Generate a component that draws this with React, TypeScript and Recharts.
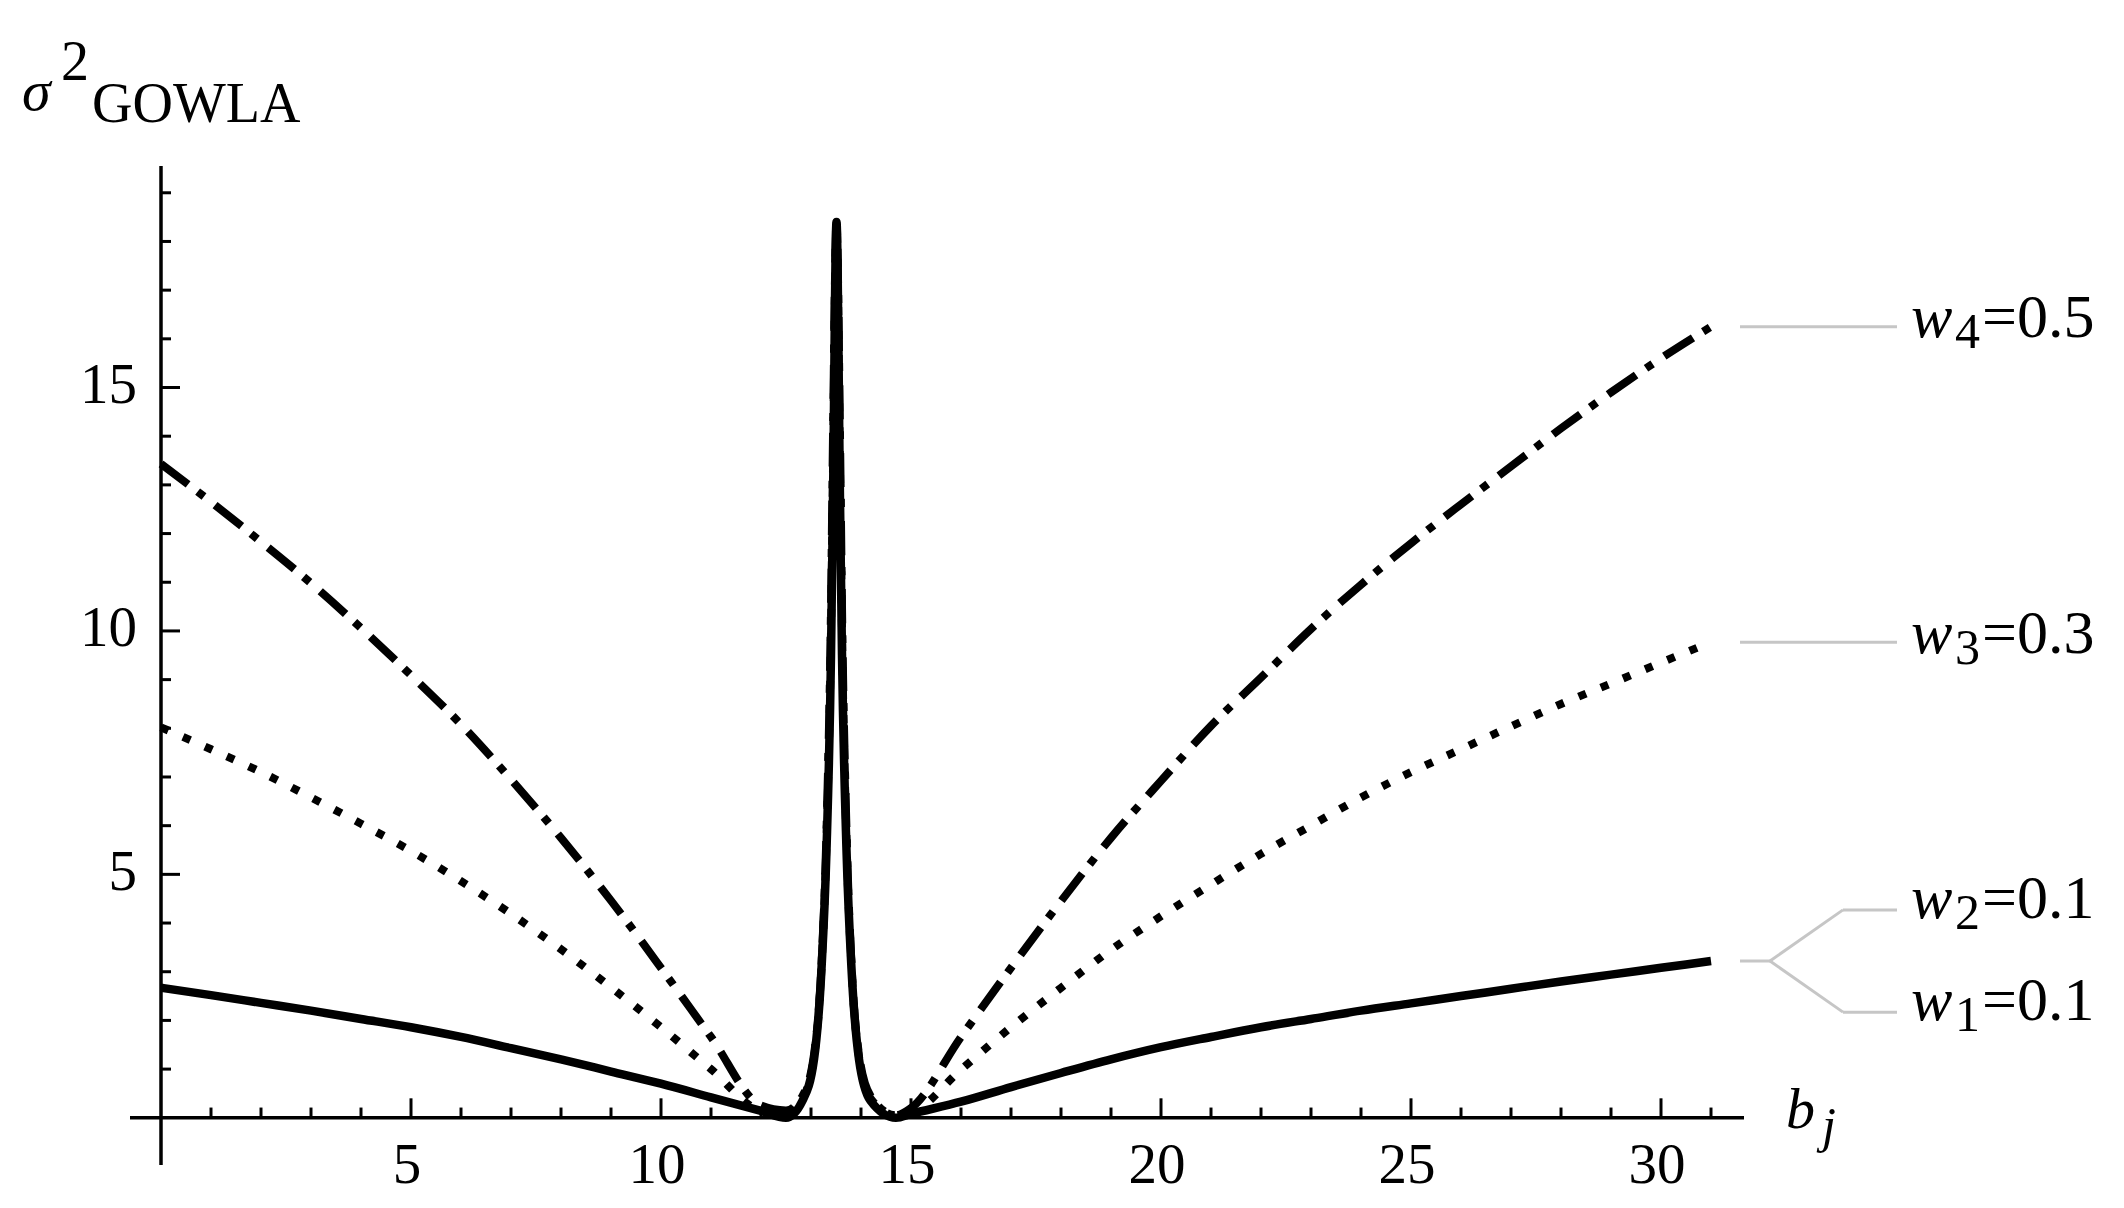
import { LineChart, Line, XAxis, YAxis, ReferenceLine } from 'recharts';

// b_j sample positions (dense around the pole near 13.5)
const bj = [
  0, 1, 2, 3, 4, 5, 6, 7, 8, 9, 10, 11, 12,
  12.5, 12.83, 13.06, 13.21, 13.31, 13.4, 13.44, 13.51, 13.58, 13.62, 13.71, 13.81, 13.96, 14.19, 14.7,
  15, 16, 17, 18, 19, 20, 21, 22, 23, 24, 25, 26, 27, 28, 29, 30, 31,
];

// w1 = w2 = 0.1 (solid)
const w12 = [
  2.67, 2.52, 2.36, 2.2, 2.03, 1.86, 1.66, 1.43, 1.2, 0.95, 0.7, 0.42, 0.14,
  0, 0.35, 1.2, 3.06, 5.5, 9.5, 12.7, 18.4, 12.7, 9.5, 5.5, 3.06, 1.2, 0.35, 0,
  0.08, 0.33, 0.63, 0.92, 1.2, 1.45, 1.66, 1.86, 2.03, 2.2, 2.35, 2.5, 2.65, 2.8, 2.94, 3.08, 3.22,
];

// w3 = 0.3 (dotted)
const w3 = [
  8.02, 7.57, 7.1, 6.58, 6.04, 5.48, 4.86, 4.19, 3.46, 2.68, 1.86, 1.0, 0.15,
  0.1, 0.4, 1.25, 3.1, 5.7, 10.0, 13.3, 18.4, 13.3, 10.0, 5.7, 3.1, 1.25, 0.4, 0.05,
  0.1, 0.99, 1.86, 2.67, 3.45, 4.14, 4.79, 5.42, 6.0, 6.58, 7.1, 7.57, 8.04, 8.5, 8.92, 9.35, 9.77,
];

// w4 = 0.5 (dash-dot)
const w4 = [
  13.43, 12.65, 11.83, 10.98, 10.06, 9.09, 8.08, 6.95, 5.75, 4.46, 3.08, 1.66, 0.25,
  0.15, 0.45, 1.3, 3.15, 5.9, 10.5, 14.0, 18.4, 14.0, 10.5, 5.9, 3.15, 1.3, 0.45, 0.05,
  0.2, 1.66, 3.08, 4.45, 5.75, 6.92, 8.05, 9.04, 10.04, 10.95, 11.8, 12.6, 13.38, 14.16, 14.9, 15.6, 16.25,
];

const xLabels = [5, 10, 15, 20, 25, 30];
const yLabels = [5, 10, 15];
const xTickMarks = Array.from({ length: 31 }, (_, i) => i + 1);
const yTickMarks = Array.from({ length: 19 }, (_, i) => i + 1);

const data = bj.map((b, i) => ({ bj: b, w12: w12[i], w3: w3[i], w4: w4[i] }));

const SERIF = '"Liberation Serif", "Times New Roman", serif';
const LEADER = '#c6c6c6';

const XTick = (props: any) => (
  <text
    x={props.x - 4}
    y={props.y - 2}
    textAnchor="middle"
    dominantBaseline="central"
    fontFamily={SERIF}
    fontSize={57}
    fill="#000"
  >
    {props.payload.value}
  </text>
);

const YTick = (props: any) => (
  <text
    x={props.x + 7}
    y={props.y - 4}
    textAnchor="end"
    dominantBaseline="central"
    fontFamily={SERIF}
    fontSize={57}
    fill="#000"
  >
    {props.payload.value}
  </text>
);

function WLabel({ y, sub, val }: { y: number; sub: string; val: string }) {
  return (
    <g fontFamily={SERIF} fill="#000">
      <text x={1911} y={y} fontSize={62} fontStyle="italic">w</text>
      <text x={1955} y={y + 11} fontSize={50}>{sub}</text>
      <text x={1982} y={y} fontSize={62}>={val}</text>
    </g>
  );
}

export default function App() {
  const endW4 = w4[w4.length - 1];
  const endW3 = w3[w3.length - 1];
  const endW12 = w12[w12.length - 1];

  return (
    <div style={{ position: 'absolute', left: 0, top: 0, width: 2124, height: 1208, background: '#fff' }}>
      <LineChart
        width={2124}
        height={1208}
        data={data}
        margin={{ top: 166, right: 380, bottom: 0, left: 0 }}
      >
        <XAxis
          type="number"
          dataKey="bj"
          domain={[-0.62, 31.66]}
          ticks={xLabels}
          interval={0}
          allowDataOverflow
          height={43}
          axisLine={false}
          tickLine={false}
          tickSize={0}
          tickMargin={0}
          tick={XTick}
        />
        <YAxis
          type="number"
          domain={[-0.97, 19.55]}
          ticks={yLabels}
          interval={0}
          allowDataOverflow
          width={130}
          axisLine={false}
          tickLine={false}
          tickSize={0}
          tickMargin={0}
          tick={YTick}
        />

        {/* axes through the origin */}
        <ReferenceLine y={0} stroke="#000" strokeWidth={3.5} />
        <ReferenceLine x={0} stroke="#000" strokeWidth={3.5} />
        {xTickMarks.map(t => (
          <ReferenceLine
            key={'xt' + t}
            segment={[{ x: t, y: 0 }, { x: t, y: t % 5 === 0 ? 0.4 : 0.21 }]}
            stroke="#000"
            strokeWidth={3}
          />
        ))}
        {yTickMarks.map(t => (
          <ReferenceLine
            key={'yt' + t}
            segment={[{ x: 0, y: t }, { x: t % 5 === 0 ? 0.38 : 0.2, y: t }]}
            stroke="#000"
            strokeWidth={3}
          />
        ))}

        {/* leader lines to the weight labels */}
        <ReferenceLine
          segment={[{ x: 31.58, y: endW4 }, { x: 34.72, y: endW4 }]}
          stroke={LEADER}
          strokeWidth={3}
          ifOverflow="visible"
        />
        <ReferenceLine
          segment={[{ x: 31.58, y: endW3 }, { x: 34.72, y: endW3 }]}
          stroke={LEADER}
          strokeWidth={3}
          ifOverflow="visible"
        />
        <ReferenceLine
          segment={[{ x: 31.58, y: endW12 }, { x: 32.18, y: endW12 }]}
          stroke={LEADER}
          strokeWidth={3}
          ifOverflow="visible"
        />
        <ReferenceLine
          segment={[{ x: 32.18, y: endW12 }, { x: 33.64, y: endW12 + 1.05 }]}
          stroke={LEADER}
          strokeWidth={3}
          ifOverflow="visible"
        />
        <ReferenceLine
          segment={[{ x: 33.64, y: endW12 + 1.05 }, { x: 34.72, y: endW12 + 1.05 }]}
          stroke={LEADER}
          strokeWidth={3}
          ifOverflow="visible"
        />
        <ReferenceLine
          segment={[{ x: 32.18, y: endW12 }, { x: 33.64, y: endW12 - 1.05 }]}
          stroke={LEADER}
          strokeWidth={3}
          ifOverflow="visible"
        />
        <ReferenceLine
          segment={[{ x: 33.64, y: endW12 - 1.05 }, { x: 34.72, y: endW12 - 1.05 }]}
          stroke={LEADER}
          strokeWidth={3}
          ifOverflow="visible"
        />

        <Line
          type="monotone"
          dataKey="w4"
          stroke="#000"
          strokeWidth={8}
          strokeDasharray="34 12 8 14"
          dot={false}
          isAnimationActive={false}
        />
        <Line
          type="monotone"
          dataKey="w3"
          stroke="#000"
          strokeWidth={8}
          strokeDasharray="8 16"
          dot={false}
          isAnimationActive={false}
        />
        <Line
          type="monotone"
          dataKey="w12"
          stroke="#000"
          strokeWidth={8.5}
          dot={false}
          isAnimationActive={false}
        />
      </LineChart>

      <svg
        width={2124}
        height={1208}
        style={{ position: 'absolute', left: 0, top: 0, pointerEvents: 'none' }}
      >
        <g fontFamily={SERIF} fill="#000">
          <text x={22} y={110} fontSize={58} fontStyle="italic">σ</text>
          <text x={61} y={80} fontSize={56}>2</text>
          <text x={92} y={122} fontSize={56}>GOWLA</text>
          <text x={1786} y={1128} fontSize={58} fontStyle="italic">b</text>
          <text x={1822} y={1142} fontSize={50} fontStyle="italic">j</text>
        </g>
        <WLabel y={337} sub="4" val="0.5" />
        <WLabel y={653} sub="3" val="0.3" />
        <WLabel y={918} sub="2" val="0.1" />
        <WLabel y={1020} sub="1" val="0.1" />
      </svg>
    </div>
  );
}
